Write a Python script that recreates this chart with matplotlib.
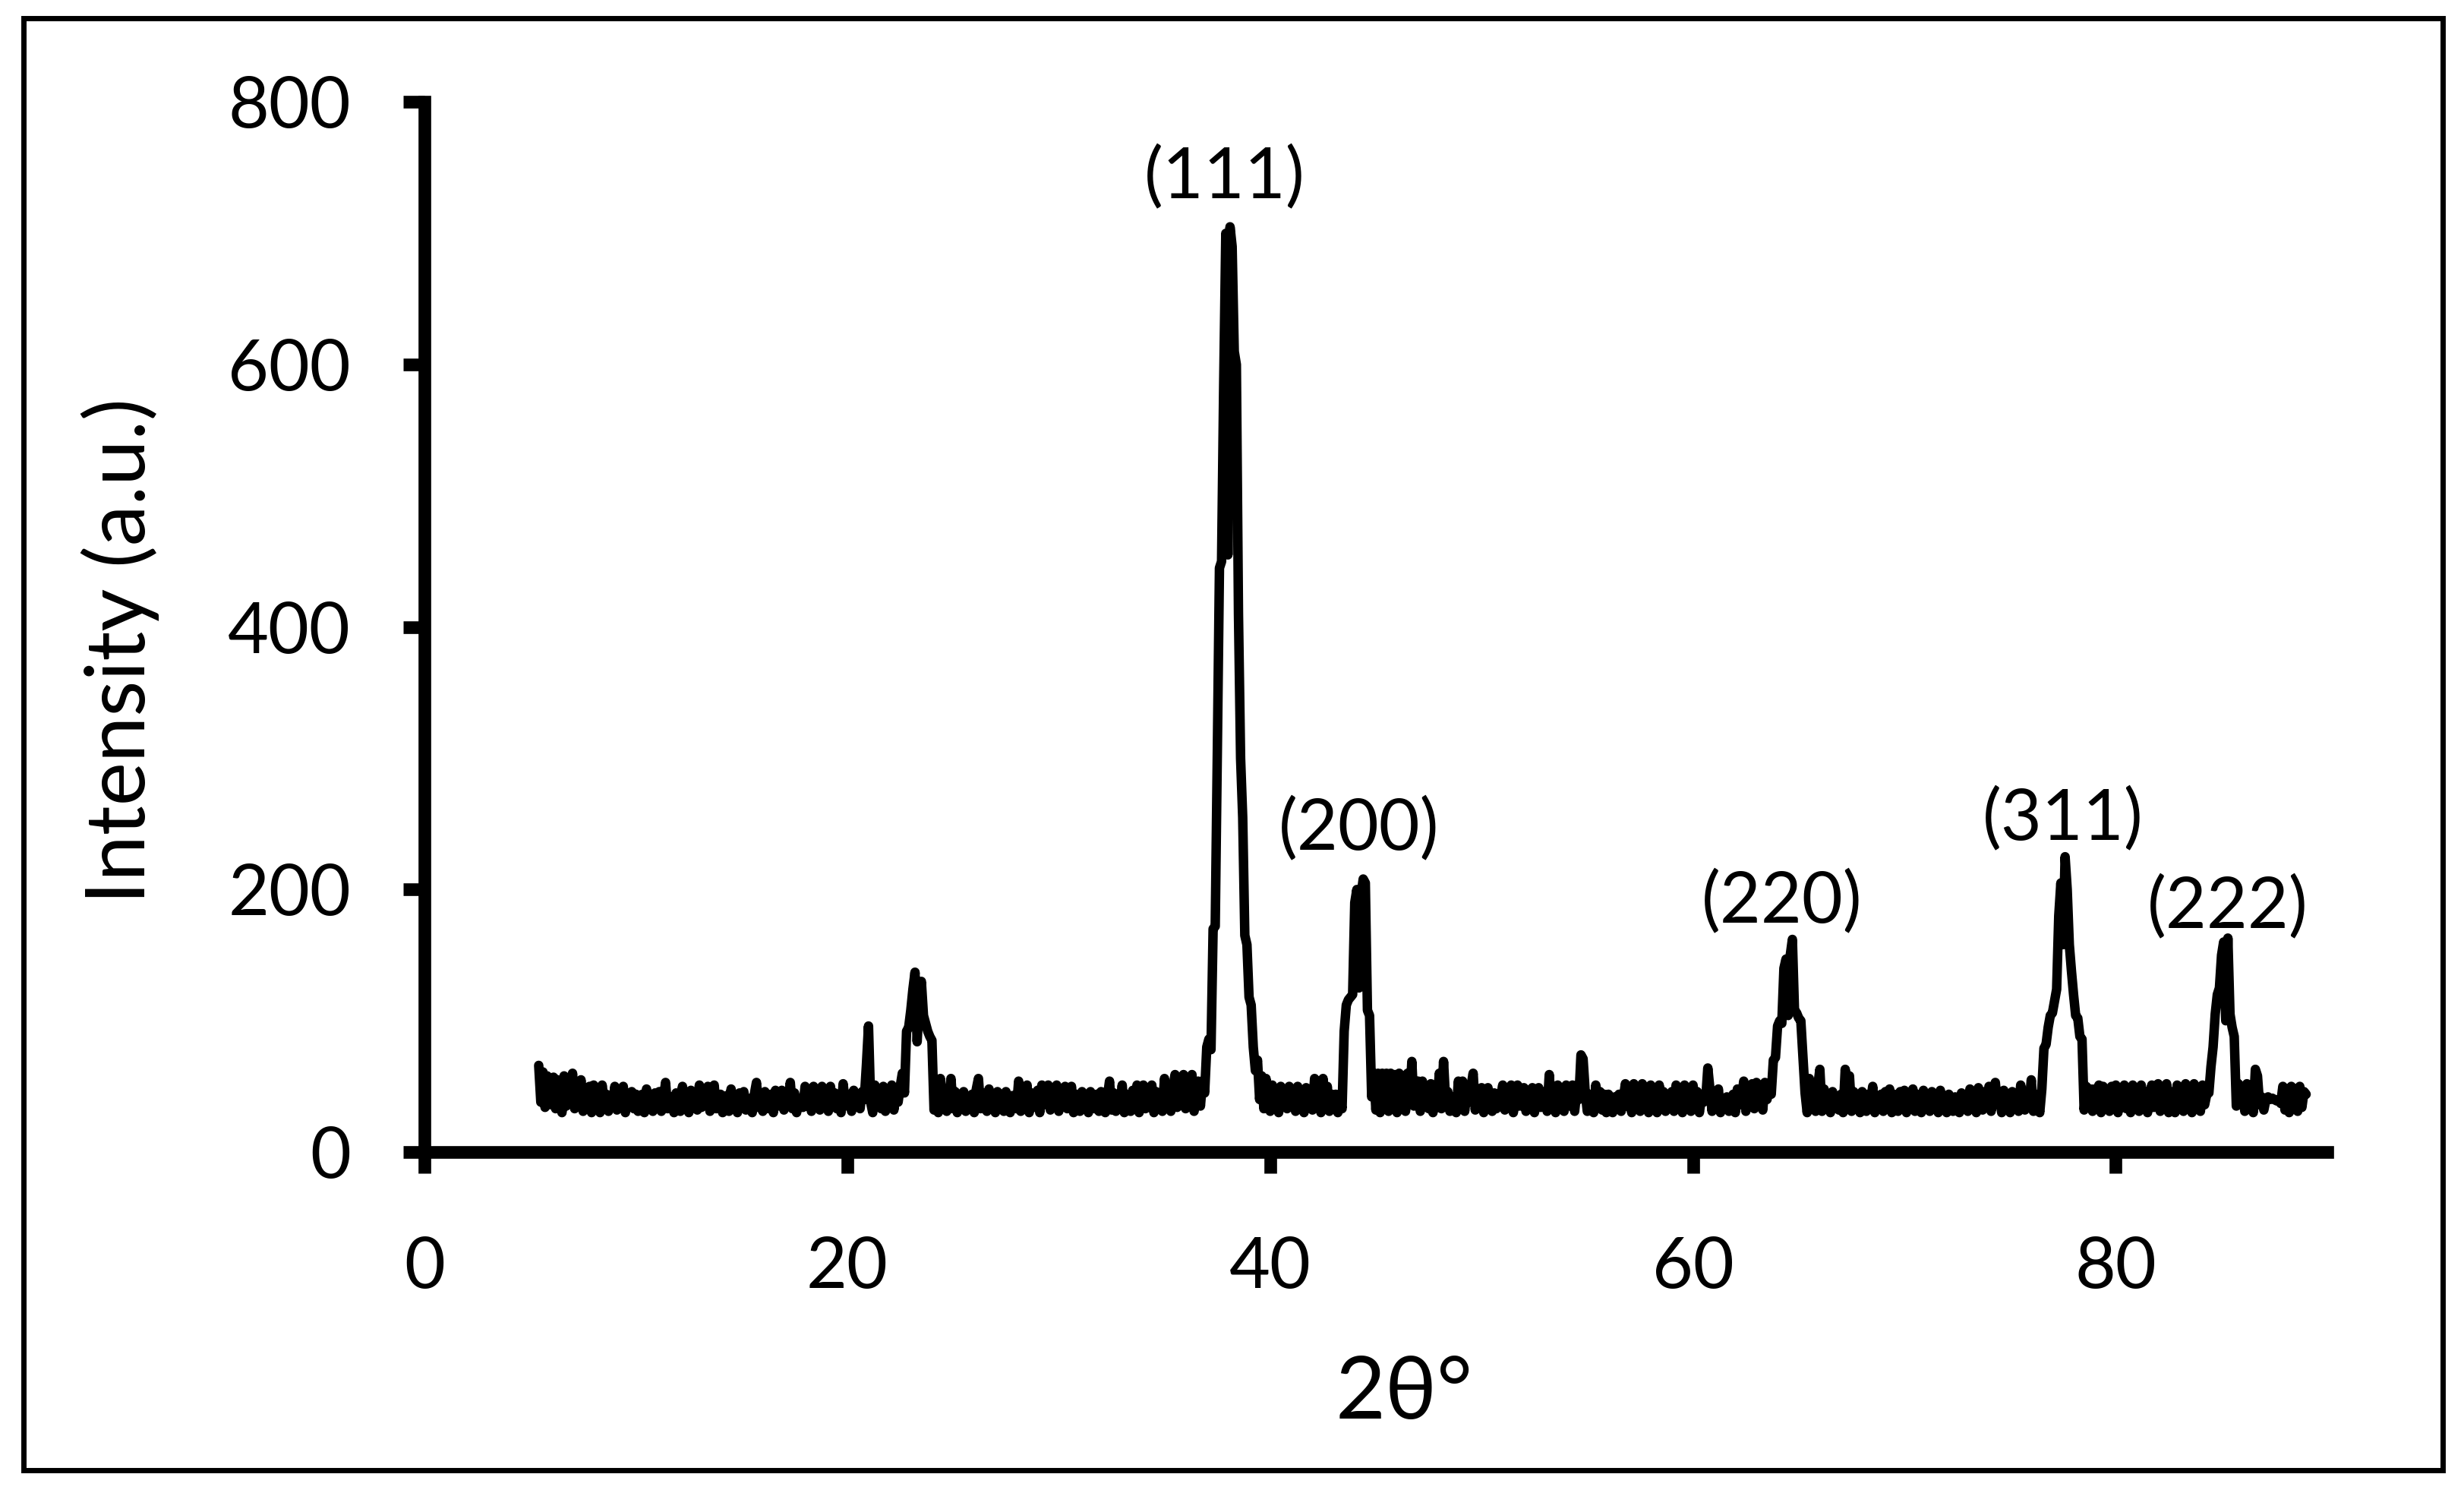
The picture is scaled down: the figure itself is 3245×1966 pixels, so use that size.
import numpy as np
import matplotlib
matplotlib.use("Agg")
import matplotlib.pyplot as plt
from matplotlib.patches import Rectangle

plt.rcParams['font.family'] = ['Lato', 'DejaVu Sans']

# XRD scan, 0.1 deg step starting at 5.4 deg; one row per degree
start_angle = 5.4
step = 0.1
intensity_rows = [
    [66, 38, 61, 34, 58, 40],                              # 5.4 - 5.9
    [36, 57, 33, 55, 41, 30, 58, 35, 52, 38],              # 6
    [60, 33, 47, 36, 55, 31, 44, 38, 50, 30],              # 7
    [51, 35, 46, 30, 51, 38, 44, 31, 43, 36],              # 8
    [50, 32, 47, 38, 50, 30, 42, 35, 46, 33],              # 9
    [44, 31, 38, 44, 30, 48, 34, 40, 31, 45],              # 10
    [36, 46, 31, 40, 53, 33, 42, 37, 30, 45],              # 11
    [38, 31, 50, 35, 44, 30, 47, 36, 41, 32],              # 12
    [51, 34, 45, 38, 50, 31, 42, 51, 33, 39],              # 13
    [44, 30, 36, 43, 31, 48, 35, 40, 30, 45],              # 14
    [36, 46, 32, 41, 37, 30, 44, 53, 34, 40],              # 15
    [31, 46, 38, 33, 44, 30, 47, 35, 42, 47],              # 16
    [32, 40, 36, 53, 33, 45, 30, 41, 38, 34],              # 17
    [50, 35, 44, 31, 50, 38, 46, 32, 50, 36],              # 18
    [42, 31, 50, 37, 45, 33, 41, 30, 52, 38],              # 19
    [35, 44, 31, 47, 36, 42, 33, 46, 40, 66],              # 20
    [96, 38, 30, 51, 35, 46, 33, 50, 31, 44],              # 21
    [36, 51, 32, 47, 38, 50, 60, 45, 92, 95],              # 22
    [108, 124, 137, 84, 115, 130, 104, 98, 92, 88],        # 23
    [85, 32, 48, 30, 56, 36, 44, 31, 40, 56],              # 24
    [33, 46, 30, 42, 36, 46, 31, 40, 34, 44],              # 25
    [30, 48, 56, 33, 45, 38, 31, 48, 35, 44],              # 26
    [30, 46, 34, 41, 31, 46, 36, 30, 43, 38],              # 27
    [33, 54, 31, 42, 36, 51, 30, 45, 38, 34],              # 28
    [47, 30, 51, 36, 44, 51, 32, 47, 38, 51],              # 29
    [31, 45, 36, 50, 33, 41, 50, 30, 44, 37],              # 30
    [31, 46, 35, 41, 30, 46, 38, 33, 44, 31],              # 31
    [46, 36, 30, 42, 54, 32, 45, 31, 41, 36],              # 32
    [51, 30, 44, 38, 31, 47, 35, 51, 30, 45],              # 33
    [51, 33, 44, 37, 51, 30, 46, 35, 42, 31],              # 34
    [56, 38, 44, 31, 49, 59, 34, 52, 38, 59],              # 35
    [33, 55, 40, 59, 31, 50, 54, 35, 54, 45],              # 36
    [80, 86, 78, 170, 172, 305, 445, 450, 585, 700],       # 37
    [455, 705, 690, 610, 600, 410, 300, 255, 165, 158],    # 38
    [118, 112, 80, 62, 70, 40, 58, 33, 56, 35],            # 39
    [31, 51, 36, 45, 30, 50, 38, 44, 33, 50],              # 40
    [35, 47, 31, 50, 38, 44, 30, 49, 36, 41],              # 41
    [32, 56, 38, 45, 30, 56, 35, 50, 31, 44],              # 42
    [36, 44, 30, 40, 33, 92, 112, 116, 118, 120],          # 43
    [190, 200, 125, 196, 208, 205, 108, 104, 42, 60],      # 44
    [32, 60, 30, 60, 34, 60, 31, 60, 36, 59],              # 45
    [30, 60, 33, 58, 31, 60, 38, 69, 35, 44],              # 46
    [54, 31, 54, 38, 50, 33, 52, 30, 44, 36],              # 47
    [60, 33, 69, 38, 46, 31, 42, 36, 30, 54],              # 48
    [35, 54, 31, 46, 38, 50, 60, 32, 44, 36],              # 49
    [49, 30, 42, 49, 38, 31, 45, 33, 38, 42],              # 50
    [51, 32, 46, 36, 51, 30, 44, 51, 35, 40],              # 51
    [49, 31, 44, 36, 49, 30, 42, 49, 34, 38],              # 52
    [46, 31, 59, 35, 46, 30, 51, 38, 44, 31],              # 53
    [51, 35, 44, 51, 31, 46, 40, 74, 71, 46],              # 54
    [31, 44, 36, 30, 51, 38, 46, 32, 44, 30],              # 55
    [44, 36, 30, 42, 33, 44, 31, 40, 52, 35],              # 56
    [46, 30, 52, 38, 44, 31, 52, 36, 41, 30],              # 57
    [51, 36, 44, 30, 51, 38, 46, 31, 40, 34],              # 58
    [46, 31, 51, 38, 44, 30, 51, 36, 40, 31],              # 59
    [51, 34, 46, 30, 42, 38, 40, 64, 48, 31],              # 60
    [44, 36, 48, 30, 40, 35, 42, 31, 38, 44],              # 61
    [30, 48, 36, 42, 54, 31, 45, 38, 52, 33],              # 62
    [53, 36, 50, 32, 53, 40, 48, 44, 70, 72],              # 63
    [96, 100, 98, 140, 147, 104, 150, 162, 108, 106],      # 64
    [102, 100, 73, 45, 30, 56, 38, 44, 31, 50],            # 65
    [63, 31, 48, 35, 44, 30, 46, 36, 42, 32],              # 66
    [44, 30, 63, 35, 58, 31, 46, 38, 42, 30],              # 67
    [46, 36, 31, 44, 38, 50, 30, 42, 36, 44],              # 68
    [31, 46, 36, 48, 30, 44, 38, 31, 46, 35],              # 69
    [47, 30, 42, 36, 48, 31, 44, 38, 30, 47],              # 70
    [35, 42, 31, 46, 36, 40, 30, 47, 34, 41],              # 71
    [30, 44, 36, 31, 42, 38, 30, 45, 34, 42],              # 72
    [31, 48, 36, 44, 30, 49, 38, 32, 46, 35],              # 73
    [50, 31, 42, 53, 36, 44, 30, 47, 33, 41],              # 74
    [30, 46, 36, 43, 31, 51, 38, 32, 44, 36],              # 75
    [55, 31, 44, 38, 30, 48, 79, 82, 95, 104],             # 76
    [106, 115, 124, 180, 205, 158, 225, 200, 158, 138],    # 77
    [120, 104, 102, 88, 86, 32, 50, 36, 48, 31],           # 78
    [48, 36, 51, 30, 50, 38, 44, 31, 50, 35],              # 79
    [51, 30, 46, 36, 51, 33, 44, 30, 51, 38],              # 80
    [44, 31, 51, 36, 46, 30, 42, 51, 34, 40],              # 81
    [52, 31, 44, 36, 52, 30, 46, 38, 30, 51],              # 82
    [36, 44, 31, 52, 38, 46, 30, 52, 35, 42],              # 83
    [31, 51, 36, 44, 45, 65, 80, 105, 120, 125],           # 84
    [150, 160, 100, 163, 105, 95, 88, 35, 52, 38],         # 85
    [48, 31, 52, 36, 44, 30, 63, 58, 36, 42],              # 86
    [32, 40, 42, 40, 41, 40, 39, 40, 37, 50],              # 87
    [32, 48, 30, 50, 36, 48, 31, 50, 34, 46],              # 88
    [44],                                                  # 89.0
]
intensity = np.array([v for row in intensity_rows for v in row], dtype=float)
two_theta = np.round(start_angle + step * np.arange(len(intensity)), 1)

# peak labels (Miller indices) and where they sit
peak_labels = ["(111)", "(200)", "(220)", "(311)", "(222)"]
label_x = [37.84, 44.2, 64.2, 77.5, 85.3]
label_y = [742, 246, 190, 253, 186]

x_ticks = [0, 20, 40, 60, 80]
y_ticks = [0, 200, 400, 600, 800]

fig = plt.figure(figsize=(16.225, 9.83), dpi=200)
ax = fig.add_axes([0.1723, 0.2284, 0.9445 - 0.1723, 0.9316 - 0.2284])

ax.plot(two_theta, intensity, color='black', lw=4.5,
        solid_joinstyle='round', solid_capstyle='round')

for txt, lx, ly in zip(peak_labels, label_x, label_y):
    ax.text(lx, ly, txt, fontsize=33.5, ha='center', va='center')

ax.set_xlim(0, 90)
ax.set_ylim(0, 800)
ax.set_xticks(x_ticks)
ax.set_yticks(y_ticks)

for side in ['top', 'right']:
    ax.spines[side].set_visible(False)
for side in ['left', 'bottom']:
    ax.spines[side].set_linewidth(6)

ax.tick_params(axis='both', direction='out', length=10, width=6,
               labelsize=33.5, color='black')
ax.tick_params(axis='x', pad=30)
ax.tick_params(axis='y', pad=25)

ax.set_xlabel("2θ°", fontsize=41)
ax.set_ylabel("Intensity (a.u.)", fontsize=39)
ax.xaxis.set_label_coords(0.515, -0.231)
ax.xaxis.label.set_va('center')
ax.yaxis.set_label_coords(-0.16, 0.477)
ax.yaxis.label.set_va('center')

# thin frame round the whole picture
fig.patches.append(Rectangle((0.0095, 0.0153), 0.9914 - 0.0095, 0.988 - 0.0153,
                             transform=fig.transFigure, fill=False,
                             edgecolor='black', lw=2.5))

fig.savefig('out.png', dpi=200)
